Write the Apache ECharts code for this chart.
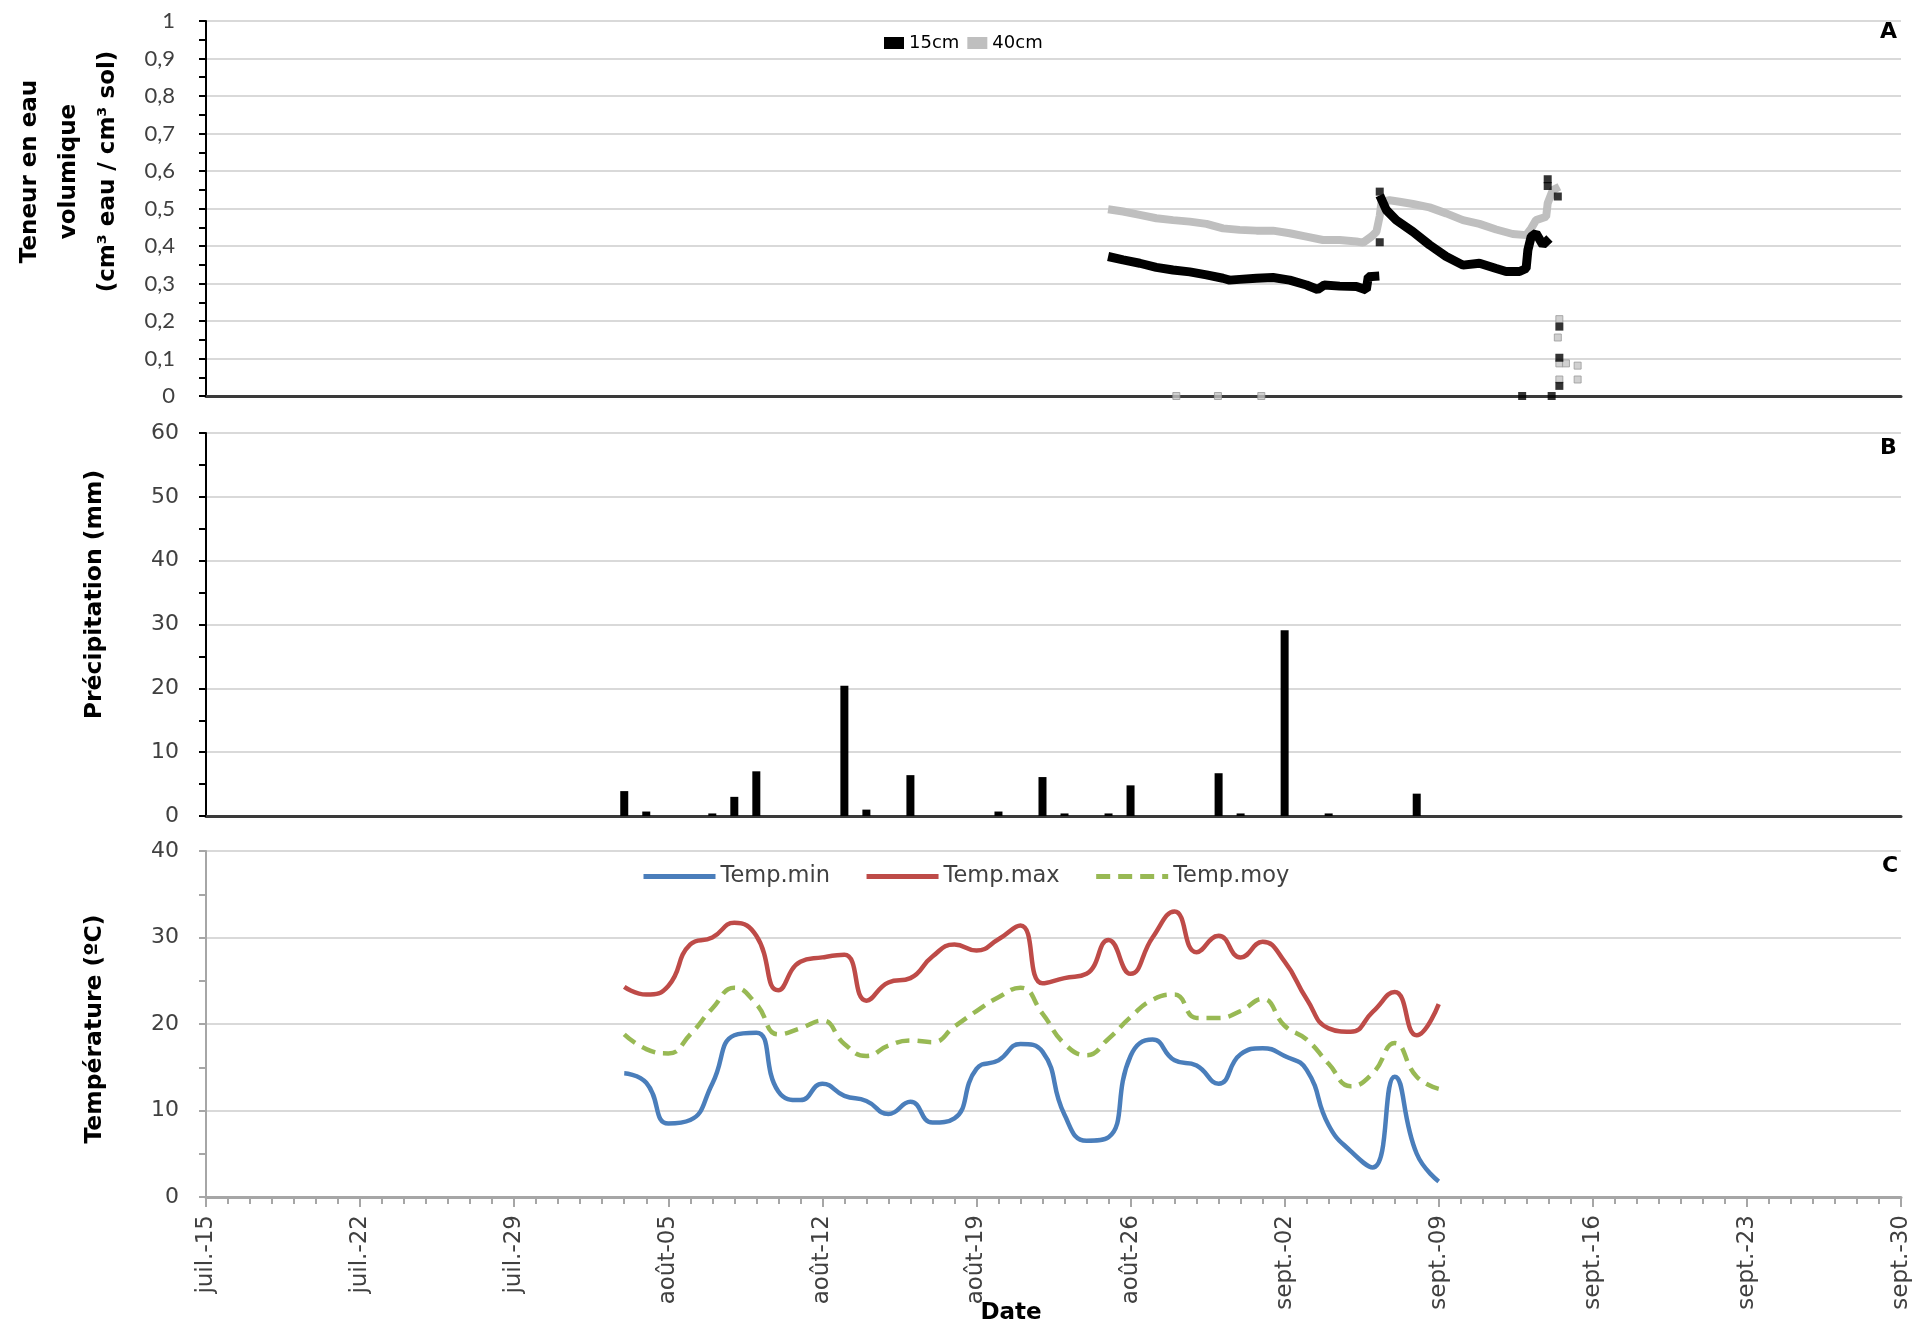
<!DOCTYPE html>
<html>
<head>
<meta charset="utf-8">
<script src="https://cdn.jsdelivr.net/npm/echarts@6/dist/echarts.min.js"></script>
<style>
html,body{margin:0;padding:0;background:#ffffff;}
#c{width:1921px;height:1324px;}
</style>
</head>
<body>
<div id="c"></div>
<script>
// ---------- tick labels ----------
const dateTicks = ['juil.-15','juil.-22','juil.-29','août-05','août-12','août-19','août-26','sept.-02','sept.-09','sept.-16','sept.-23','sept.-30'];
const moistureTicks = ['0','0,1','0,2','0,3','0,4','0,5','0,6','0,7','0,8','0,9','1'];

// ---------- panel A : volumetric water content (x = days since 15 July) ----------
const moist15Seg1 = [[40.98,0.372],[41.66,0.363],[42.42,0.354],[43.17,0.343],[43.93,0.336],[44.69,0.331],[45.45,0.323],[46.2,0.314],[46.5,0.309],[46.96,0.311],[47.72,0.314],[48.47,0.316],[49.23,0.309],[49.99,0.296],[50.5,0.284],[50.8,0.296],[51.5,0.293],[52.26,0.292],[52.71,0.283],[52.8,0.318],[53.3,0.32]];
const moist15Seg2 = [[53.32,0.535],[53.62,0.496],[54.07,0.469],[54.83,0.438],[55.58,0.403],[56.34,0.372],[57.1,0.349],[57.85,0.354],[58.61,0.340],[59.06,0.332],[59.67,0.332],[59.97,0.340],[60.05,0.389],[60.2,0.425],[60.42,0.434],[60.73,0.403],[61.03,0.420]];
const moist15Pts = [[53.32,0.41],[53.32,0.545],[60.95,0.578],[60.95,0.56],[61.41,0.532],[59.79,0],[61.13,0],[61.48,0.185],[61.48,0.102],[61.48,0.027]];
const moist40Line = [[40.98,0.498],[41.66,0.492],[42.42,0.483],[43.17,0.474],[43.93,0.469],[44.69,0.465],[45.45,0.459],[46.2,0.447],[46.96,0.443],[47.72,0.441],[48.47,0.441],[49.23,0.434],[49.99,0.425],[50.74,0.416],[51.5,0.416],[52.26,0.412],[52.56,0.409],[52.94,0.425],[53.17,0.438],[53.32,0.48],[53.4,0.518],[53.77,0.522],[54.22,0.518],[54.83,0.512],[55.58,0.503],[56.34,0.487],[57.1,0.469],[57.85,0.459],[58.61,0.444],[59.36,0.432],[59.97,0.429],[60.2,0.447],[60.42,0.469],[60.88,0.478],[60.95,0.514],[61.18,0.549],[61.48,0.558]];
const moist40Pts = [[44.08,0],[45.97,0],[47.94,0],[61.48,0.205],[61.41,0.156],[61.48,0.087],[61.78,0.087],[62.31,0.081],[62.31,0.044],[61.48,0.044]];

// ---------- panel B : precipitation ----------
const rainDates = ['08-03','08-04','08-07','08-08','08-09','08-13','08-14','08-16','08-20','08-22','08-23','08-25','08-26','08-30','08-31','09-02','09-04','09-08'];
const rainMm    = [3.9,0.7,0.4,3.0,7.0,20.4,1.0,6.4,0.7,6.1,0.4,0.4,4.8,6.7,0.4,29.1,0.4,3.5];

// ---------- panel C : temperature ----------
const tempDates = ['08-03','08-04','08-05','08-06','08-07','08-08','08-09','08-10','08-11','08-12','08-13','08-14','08-15','08-16','08-17','08-18','08-19','08-20','08-21','08-22','08-23','08-24','08-25','08-26','08-27','08-28','08-29','08-30','08-31','09-01','09-02','09-03','09-04','09-05','09-06','09-07','09-08','09-09'];
const tempMin = [14.3,13.2,8.5,8.9,13.1,18.7,19.0,12.2,11.2,13.1,11.7,11.1,9.6,11.0,8.6,9.1,14.8,15.8,17.7,16.8,9.5,6.5,6.9,16.3,18.2,15.8,15.2,13.1,16.5,17.2,16.3,14.7,8.3,5.3,3.4,13.9,5.0,1.8];
const tempMax = [24.3,23.4,24.4,29.2,30.0,31.7,30.2,23.9,27.2,27.7,28.0,22.7,24.8,25.3,27.8,29.2,28.5,29.8,31.4,24.7,25.3,25.8,29.7,25.8,30.0,33.0,28.3,30.2,27.7,29.5,27.2,22.9,19.5,19.1,21.4,23.7,18.7,22.3];
const tempMoy = [18.8,17.1,16.6,18.8,21.8,24.2,22.3,18.8,19.5,20.4,17.7,16.3,17.5,18.1,17.9,19.7,21.5,23.1,24.2,21.2,17.7,16.4,18.3,20.8,22.8,23.4,20.7,20.7,21.5,22.9,19.8,18.2,15.4,12.8,14.3,17.8,13.9,12.5];

// date "MM-DD" -> days since 15 July
const BASE = Date.UTC(2013, 6, 15);
function dayOf(s) { const p = s.split('-').map(Number); return (Date.UTC(2013, p[0] - 1, p[1]) - BASE) / 86400000; }

const FONT = '"DejaVu Sans", sans-serif';
const LABEL = '#404040';
const GRIDC = '#d9d9d9';

function xAxisFor(idx, labelled) {
  return {
    type: 'value', gridIndex: idx, min: 0, max: 77, interval: 7,
    axisLine: { show: true, onZero: false, lineStyle: { color: labelled ? '#a6a6a6' : '#3a3a3a', width: 3 } },
    axisTick: { show: labelled, length: 10, lineStyle: { color: '#a6a6a6', width: 2 } },
    minorTick: { show: labelled, splitNumber: 7, length: 7, lineStyle: { color: '#a6a6a6', width: 2 } },
    axisLabel: { show: labelled, rotate: 90, margin: 18, fontFamily: FONT, fontSize: 23, color: LABEL,
      formatter: v => dateTicks[Math.round(v / 7)] },
    splitLine: { show: false },
    name: labelled ? 'Date' : '',
    nameLocation: 'middle', nameGap: 105, nameMoveOverlap: false,
    nameTextStyle: { fontFamily: FONT, fontWeight: 'bold', fontSize: 23, color: '#000', padding: [0, 85, 0, 0] }
  };
}

function yAxisFor(idx, o) {
  return {
    type: 'value', gridIndex: idx, min: o.min, max: o.max, interval: o.interval,
    axisLine: { show: true, lineStyle: { color: o.lineColor, width: 2 } },
    axisTick: { show: true, length: 7, lineStyle: { color: o.lineColor, width: 2 } },
    minorTick: { show: true, splitNumber: 2, length: 7, lineStyle: { color: o.lineColor, width: 2 } },
    axisLabel: { margin: o.labelMargin, fontFamily: o.labelFont, fontSize: o.labelSize, color: LABEL, formatter: o.formatter },
    splitLine: { show: true, lineStyle: { color: GRIDC, width: 2 } },
    name: o.name, nameLocation: 'middle', nameRotate: 90, nameGap: o.nameGap, nameMoveOverlap: false,
    nameTextStyle: { fontFamily: FONT, fontWeight: 'bold', fontSize: o.nameSize, color: '#000', lineHeight: 39, padding: o.namePad }
  };
}

const option = {
  animation: false,
  backgroundColor: '#ffffff',
  title: [
    { text: 'A', left: 1880, top: 21, padding: 0, textStyle: { fontFamily: FONT, fontWeight: 'bold', fontSize: 22, color: '#000' } },
    { text: 'B', left: 1880, top: 437, padding: 0, textStyle: { fontFamily: FONT, fontWeight: 'bold', fontSize: 22, color: '#000' } },
    { text: 'C', left: 1882, top: 855, padding: 0, textStyle: { fontFamily: FONT, fontWeight: 'bold', fontSize: 22, color: '#000' } }
  ],
  legend: [
    { data: ['15cm', '40cm'], left: 879, top: 29, icon: 'rect', itemWidth: 20, itemHeight: 12, itemGap: 8,
      textStyle: { fontFamily: FONT, fontSize: 18, color: '#000' } },
    { data: ['Temp.min', 'Temp.max', 'Temp.moy'], left: 636, top: 860, itemWidth: 72, itemHeight: 14, itemGap: 34,
      itemStyle: { opacity: 0, color: 'rgba(0,0,0,0)', borderWidth: 0 },
      lineStyle: { width: 5 },
      textStyle: { fontFamily: FONT, fontSize: 22.5, color: LABEL } }
  ],
  grid: [
    { left: 206, right: 20, top: 21, height: 375, outerBoundsMode: 'none', containLabel: false },
    { left: 206, right: 20, top: 433, height: 383, outerBoundsMode: 'none', containLabel: false },
    { left: 206, right: 20, top: 851, height: 346, outerBoundsMode: 'none', containLabel: false }
  ],
  xAxis: [xAxisFor(0, false), xAxisFor(1, false), xAxisFor(2, true)],
  yAxis: [
    yAxisFor(0, { min: 0, max: 1, interval: 0.1, lineColor: '#000', labelFont: 'Lato, sans-serif', labelSize: 22, labelMargin: 31,
      formatter: v => moistureTicks[Math.round(v * 10)],
      name: 'Teneur en eau\nvolumique\n(cm³ eau / cm³ sol)', nameGap: 78, nameSize: 23, namePad: [0, 0, 0, 74] }),
    yAxisFor(1, { min: 0, max: 60, interval: 10, lineColor: '#000', labelFont: FONT, labelSize: 22, labelMargin: 27,
      formatter: v => String(v), name: 'Précipitation (mm)', nameGap: 92, nameSize: 23.5, namePad: [0, 0, 0, 60] }),
    yAxisFor(2, { min: 0, max: 40, interval: 10, lineColor: '#a6a6a6', labelFont: FONT, labelSize: 22, labelMargin: 27,
      formatter: v => String(v), name: 'Température (ºC)', nameGap: 92, nameSize: 23.5, namePad: [0, 10, 0, 0] })
  ],
  series: [
    { name: '40cm', type: 'line', xAxisIndex: 0, yAxisIndex: 0, data: moist40Line, symbol: 'none', color: '#bfbfbf',
      lineStyle: { color: '#bfbfbf', width: 8 }, z: 3 },
    { name: '40cm', type: 'scatter', xAxisIndex: 0, yAxisIndex: 0, data: moist40Pts, symbol: 'rect', symbolSize: 7,
      itemStyle: { color: '#c4c4c4', borderColor: '#9a9a9a', borderWidth: 1 }, z: 4 },
    { name: '15cm', type: 'line', xAxisIndex: 0, yAxisIndex: 0, data: moist15Seg1, symbol: 'none', color: '#000',
      lineStyle: { color: '#000', width: 9 }, z: 5 },
    { name: '15cm', type: 'line', xAxisIndex: 0, yAxisIndex: 0, data: moist15Seg2, symbol: 'none', color: '#000',
      lineStyle: { color: '#000', width: 9 }, z: 5 },
    { name: '15cm', type: 'scatter', xAxisIndex: 0, yAxisIndex: 0, data: moist15Pts, symbol: 'rect', symbolSize: 8,
      itemStyle: { color: '#000' }, z: 6 },
    { name: 'Précipitation', type: 'bar', xAxisIndex: 1, yAxisIndex: 1, barWidth: 8,
      data: rainDates.map((d, i) => [dayOf(d), rainMm[i]]), itemStyle: { color: '#000' } },
    { name: 'Temp.min', type: 'line', xAxisIndex: 2, yAxisIndex: 2, smooth: true, symbol: 'none', color: '#4a7ebb',
      lineStyle: { color: '#4a7ebb', width: 4.5 }, data: tempDates.map((d, i) => [dayOf(d), tempMin[i]]) },
    { name: 'Temp.max', type: 'line', xAxisIndex: 2, yAxisIndex: 2, smooth: true, symbol: 'none', color: '#be4b48',
      lineStyle: { color: '#be4b48', width: 4.5 }, data: tempDates.map((d, i) => [dayOf(d), tempMax[i]]) },
    { name: 'Temp.moy', type: 'line', xAxisIndex: 2, yAxisIndex: 2, smooth: true, symbol: 'none', color: '#98b954',
      lineStyle: { color: '#98b954', width: 4.5, type: [14, 8] }, data: tempDates.map((d, i) => [dayOf(d), tempMoy[i]]) }
  ]
};

const chart = echarts.init(document.getElementById('c'), null, { renderer: 'canvas', width: 1921, height: 1324 });
chart.setOption(option);
</script>
</body>
</html>
